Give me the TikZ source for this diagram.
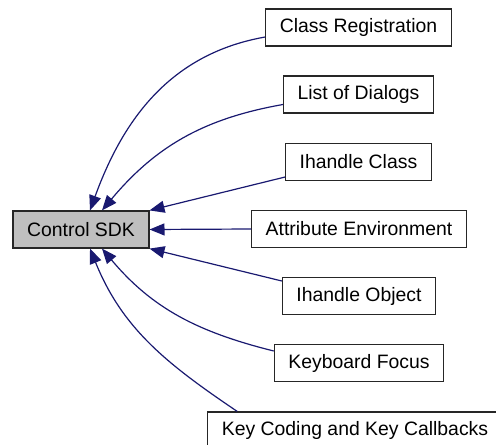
\documentclass[tikz,border=0pt]{standalone}
\usepackage{fontspec}
\setmainfont{Liberation Sans}
\usetikzlibrary{arrows.meta}
\definecolor{edgeblue}{HTML}{191970}
\tikzset{
  grp/.style ={draw=black!85,line width=1.2pt,fill=white,minimum height=37pt,
               inner xsep=14pt,inner ysep=0pt,font=\fontsize{19.4}{23}\selectfont},
  cur/.style ={grp,fill=black!25},
  dep/.style ={draw=edgeblue,line width=1.2pt,-{Triangle[length=15pt,width=12pt]}},
}
\begin{document}
\begin{tikzpicture}[x=1pt,y=1pt]
  \useasboundingbox (0,0) rectangle (496,-445);
  \node[cur] (sdk) at (81,-229.5) {Control SDK};
  \node[grp] (creg) at (358.5,-27.5) {Class Registration};
  \node[grp] (dlgs) at (358.5,-94.5) {List of Dialogs};
  \node[grp] (hcls) at (358.5,-162) {Ihandle Class};
  \node[grp] (aenv) at (359,-229) {Attribute Environment};
  \node[grp] (hobj) at (359,-296) {Ihandle Object};
  \node[grp] (kfoc) at (359,-363) {Keyboard Focus};
  \node[grp] (kcod) at (355,-430.5) {Key Coding and Key Callbacks};
  % dependencies
  \draw[dep] ([yshift=-9.5pt]creg.west) to[out=190,in=70] ([xshift=9pt]sdk.north);
  \draw[dep] ([yshift=-10pt]dlgs.west) to[out=190,in=50] ([xshift=21pt]sdk.north);
  \draw[dep] ([yshift=-15pt]hcls.west) -- (sdk.north east);
  \draw[dep] (aenv.west) -- (sdk.east);
  \draw[dep] ([yshift=15pt]hobj.west) -- (sdk.south east);
  \draw[dep] ([yshift=12pt]kfoc.west) to[out=166,in=-50] ([xshift=21pt]sdk.south);
  \draw[dep] ([xshift=30pt]kcod.north west) to[out=146,in=-68] ([xshift=9pt]sdk.south);
\end{tikzpicture}
\end{document}
